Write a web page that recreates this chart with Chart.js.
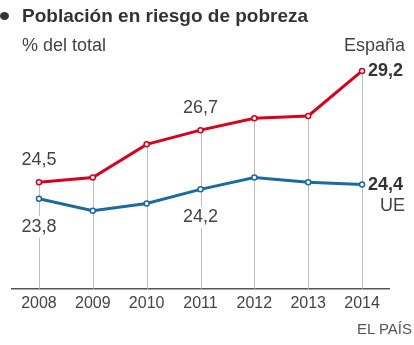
<!DOCTYPE html>
<html>
<head>
<meta charset="utf-8">
<script src="https://cdn.jsdelivr.net/npm/chart.js@4"></script>
<style>
  html, body { margin: 0; padding: 0; background: #fff; }
  #wrap { position: relative; width: 414px; height: 345px; font-family: "Liberation Sans", Arial, sans-serif; }
  #c { position: absolute; left: 0; top: 0; }
  .title { position: absolute; left: 22px; top: 5px; font-size: 19px; font-weight: bold; color: #333; white-space: nowrap; }
  .bullet { position: absolute; left: 0; top: 12px; width: 9px; height: 8px; border-radius: 50%; background: #333; }
  .sub { position: absolute; left: 22px; top: 35px; font-size: 18px; color: #444; }
  .pais { position: absolute; right: 9px; top: 35px; font-size: 18px; color: #444; }
  .src { position: absolute; right: 2px; top: 320px; font-size: 15px; color: #555; }
</style>
</head>
<body>
<div id="wrap">
  <canvas id="c" width="414" height="345"></canvas>
  <span class="bullet"></span>
  <div class="title">Población en riesgo de pobreza</div>
  <div class="sub">% del total</div>
  <div class="pais">España</div>
  <div class="src">EL PAÍS</div>
</div>
<script>
const years = ['2008', '2009', '2010', '2011', '2012', '2013', '2014'];
const espana = [24.5, 24.7, 26.1, 26.7, 27.2, 27.3, 29.2];
const ue = [23.8, 23.3, 23.6, 24.2, 24.7, 24.5, 24.4];

const RED = '#d8001c';
const BLUE = '#1b6aa0';

function fmt(v) {
  return v.toFixed(1).replace('.', ',');
}

// lineas verticales desde el punto rojo hasta el eje
const dropLines = {
  id: 'dropLines',
  beforeDatasetsDraw(chart) {
    const { ctx, chartArea } = chart;
    const pts = chart.getDatasetMeta(0).data;
    ctx.save();
    ctx.strokeStyle = '#bdbdbd';
    ctx.lineWidth = 1;
    pts.forEach((p) => {
      const x = Math.round(p.x) + 0.5;
      ctx.beginPath();
      ctx.moveTo(x, p.y);
      ctx.lineTo(x, chartArea.bottom);
      ctx.stroke();
    });
    ctx.restore();
  },
};

// etiquetas de valores
const valueLabels = {
  id: 'valueLabels',
  afterDatasetsDraw(chart) {
    const { ctx } = chart;
    const red = chart.getDatasetMeta(0).data;
    const blue = chart.getDatasetMeta(1).data;
    const last = years.length - 1;

    function boxed(text, x, y) {
      ctx.font = '18px "Liberation Sans", Arial, sans-serif';
      const w = ctx.measureText(text).width;
      ctx.fillStyle = '#fff';
      ctx.fillRect(x - w / 2 - 2, y - 11, w + 4, 22);
      ctx.fillStyle = '#444';
      ctx.textAlign = 'center';
      ctx.textBaseline = 'middle';
      ctx.fillText(text, x, y);
    }

    ctx.save();
    [0, 3].forEach((i) => {
      boxed(fmt(espana[i]), red[i].x, red[i].y - 22);
      boxed(fmt(ue[i]), blue[i].x, blue[i].y + 28);
    });

    ctx.font = 'bold 18px "Liberation Sans", Arial, sans-serif';
    ctx.fillStyle = '#333';
    ctx.textAlign = 'left';
    ctx.textBaseline = 'middle';
    ctx.fillText(fmt(espana[last]), red[last].x + 6, red[last].y);
    ctx.fillText(fmt(ue[last]), blue[last].x + 6, blue[last].y);

    ctx.font = '18px "Liberation Sans", Arial, sans-serif';
    ctx.fillStyle = '#444';
    ctx.textAlign = 'right';
    ctx.fillText('UE', 405, blue[last].y + 21);
    ctx.restore();
  },
};

new Chart(document.getElementById('c'), {
  type: 'line',
  data: {
    labels: years,
    datasets: [
      {
        label: 'España',
        data: espana,
        borderColor: RED,
        borderWidth: 3,
        pointRadius: 2.5,
        pointBackgroundColor: '#fff',
        pointBorderColor: RED,
        pointBorderWidth: 1.5,
        tension: 0,
      },
      {
        label: 'UE',
        data: ue,
        borderColor: BLUE,
        borderWidth: 3,
        pointRadius: 2.5,
        pointBackgroundColor: '#fff',
        pointBorderColor: BLUE,
        pointBorderWidth: 1.5,
        tension: 0,
      },
    ],
  },
  options: {
    responsive: false,
    animation: false,
    layout: { padding: { left: 12, right: 25, top: 52, bottom: 27 } },
    plugins: { legend: { display: false }, tooltip: { enabled: false } },
    scales: {
      x: {
        offset: true,
        grid: { display: false, drawTicks: false },
        border: { display: true, color: '#555', width: 1.5 },
        ticks: {
          color: '#444',
          padding: 5,
          font: { size: 16, family: '"Liberation Sans", Arial, sans-serif' },
        },
      },
      y: {
        display: false,
        min: 20,
        max: 30,
      },
    },
  },
  plugins: [dropLines, valueLabels],
});
</script>
</body>
</html>
